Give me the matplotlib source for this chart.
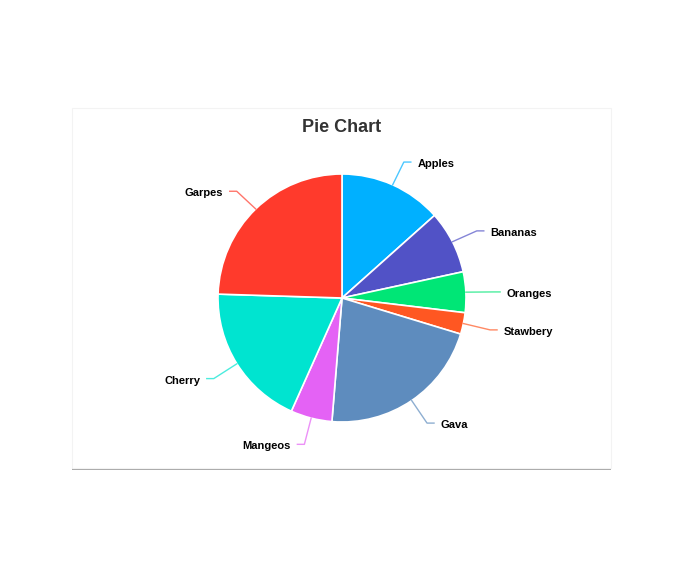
import numpy as np
import matplotlib.pyplot as plt
from matplotlib.patches import Rectangle

fruits = ['Apples', 'Bananas', 'Oranges', 'Stawbery', 'Gava', 'Mangeos', 'Cherry', 'Garpes']
amounts = [13.4, 8.2, 5.3, 2.8, 21.6, 5.4, 18.8, 24.5]
colors = ['#00b0ff', '#5152c6', '#00e676', '#ff5722', '#5e8cbe', '#e462f5', '#00e4d0', '#ff3a2c']

W, H = 686, 562
fig = plt.figure(figsize=(W / 100, H / 100), dpi=100)
ax = fig.add_axes([0, 0, 1, 1])

# card with a soft shadow
ax.add_patch(Rectangle((72, H - 469.5), 539, 360, facecolor='#a8a8a8', edgecolor='none', zorder=0))
ax.add_patch(Rectangle((72, H - 468), 539, 360, facecolor='white', edgecolor='#f3f3f3', lw=0.8, zorder=1))

ax.text(342, H - 127, 'Pie Chart', ha='center', va='center', fontsize=13, fontweight='bold',
        color='#333333', family=['Liberation Sans', 'DejaVu Sans'], zorder=3)

cx, cy, r = 342, H - 298, 124
wedges, _ = ax.pie(amounts, colors=colors, startangle=90, counterclock=False,
                   center=(cx, cy), radius=r, frame=True,
                   wedgeprops=dict(edgecolor='white', linewidth=1.2, zorder=2))
ax.set_xlim(0, W)
ax.set_ylim(0, H)
ax.set_aspect('equal')
ax.axis('off')

for w, name, c in zip(wedges, fruits, colors):
    a = np.deg2rad((w.theta1 + w.theta2) / 2)
    x0, y0 = cx + r * np.cos(a), cy + r * np.sin(a)
    x1, y1 = cx + 1.22 * r * np.cos(a), cy + 1.21 * r * np.sin(a) - 1
    s = 1 if np.cos(a) >= 0 else -1
    x2 = x1 + s * 7
    ax.plot([x0, x1, x2], [y0, y1, y1], color=c, lw=1, alpha=0.7, zorder=3)
    ax.text(x2 + s * 6.5, y1 - 2, name, ha='left' if s > 0 else 'right', va='center',
            fontsize=8, fontweight='bold', color='black',
            family=['Liberation Sans', 'DejaVu Sans'], zorder=3)

fig.savefig('out.png', dpi=100, facecolor='white')
